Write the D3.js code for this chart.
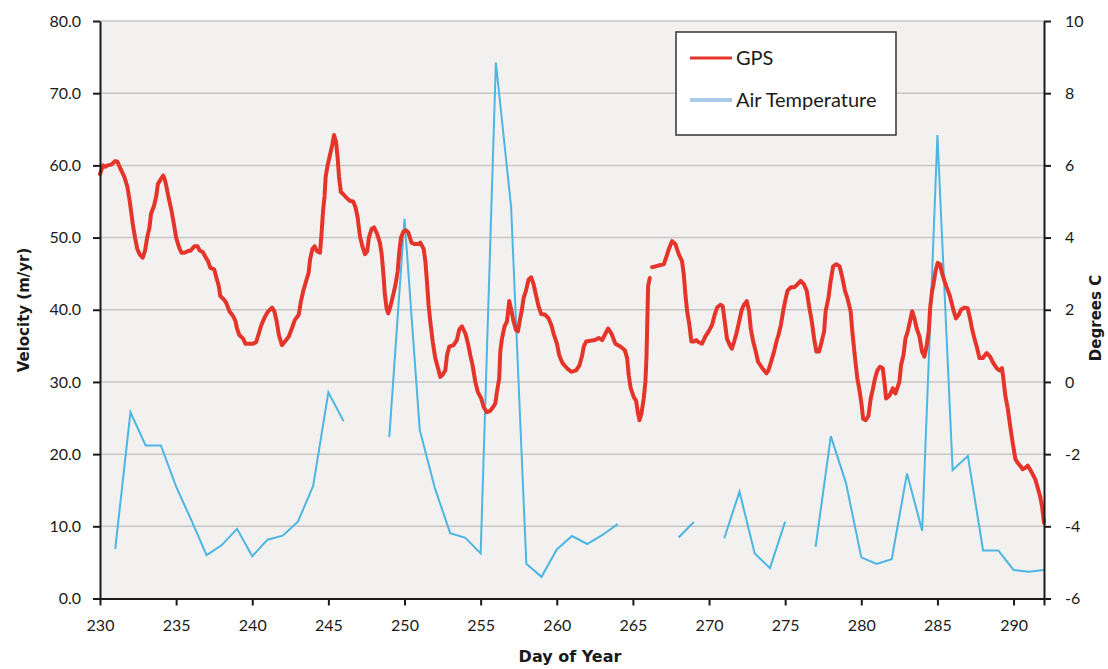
<!DOCTYPE html>
<html><head><meta charset="utf-8">
<script src="https://cdn.jsdelivr.net/npm/d3@7"></script>
<style>
html,body{margin:0;padding:0;background:#fff;}
svg text{font-family:Lato,"Open Sans",sans-serif;fill:#1a1a1a;}
</style></head>
<body>
<svg id="chart" width="1108" height="669"></svg>
<script>
// ---- data ----
const velTicks = [0,10,20,30,40,50,60,70,80];
const tempTicks = [-6,-4,-2,0,2,4,6,8,10];
const dayTicks = [230,235,240,245,250,255,260,265,270,275,280,285,290];

const gpsDay = [230.0,230.2,230.35,230.5,230.75,231.0,231.15,231.35,231.6,231.8,231.95,232.05,232.15,232.3,232.45,232.6,232.8,232.95,233.1,233.25,233.35,233.55,233.7,233.8,234.0,234.15,234.25,234.35,234.5,234.7,234.85,235.0,235.2,235.35,235.55,235.75,235.95,236.2,236.4,236.55,236.75,236.9,237.1,237.25,237.5,237.65,237.8,237.9,238.15,238.3,238.5,238.75,238.9,239.0,239.15,239.4,239.55,239.75,240.05,240.25,240.4,240.6,240.85,241.05,241.3,241.45,241.6,241.75,241.95,242.15,242.4,242.6,242.8,243.05,243.2,243.35,243.5,243.7,243.8,243.95,244.1,244.25,244.45,244.55,244.65,244.75,244.82,244.95,245.1,245.25,245.37,245.5,245.6,245.7,245.82,245.98,246.2,246.4,246.63,246.78,246.92,247.07,247.23,247.4,247.55,247.66,247.84,248.0,248.2,248.38,248.5,248.6,248.71,248.82,248.93,249.08,249.26,249.41,249.55,249.66,249.77,249.92,250.1,250.25,250.46,250.67,250.9,251.04,251.26,251.37,251.47,251.58,251.69,251.85,252.02,252.2,252.35,252.5,252.68,252.79,252.94,253.22,253.44,253.6,253.77,254.0,254.17,254.32,254.47,254.65,254.82,255.04,255.2,255.41,255.63,255.81,255.96,256.07,256.22,256.29,256.4,256.57,256.73,256.88,257.01,257.16,257.32,257.45,257.56,257.71,257.82,257.97,258.15,258.32,258.48,258.65,258.8,258.98,259.24,259.46,259.64,259.79,260.01,260.16,260.38,260.67,260.95,261.27,261.49,261.67,261.77,261.93,262.21,262.5,262.76,262.98,263.15,263.37,263.59,263.85,264.18,264.47,264.62,264.73,264.86,265.06,265.21,265.32,265.43,265.56,265.71,265.82,265.89,265.95,266.0,266.11,266.18,266.26,266.48,266.81,267.03,267.18,267.36,267.57,267.79,268.01,268.23,268.34,268.45,268.56,268.71,268.84,269.0,269.15,269.32,269.54,269.76,269.98,270.2,270.37,270.53,270.75,270.9,271.03,271.18,271.32,271.5,271.65,271.8,271.98,272.15,272.3,272.48,272.63,272.74,272.9,273.07,273.22,273.5,273.77,273.9,274.05,274.27,274.43,274.56,274.72,274.87,275.0,275.15,275.37,275.59,275.8,276.02,276.24,276.42,276.57,276.75,276.9,277.05,277.23,277.4,277.56,277.66,277.84,277.99,278.15,278.36,278.58,278.76,278.93,279.09,279.3,279.41,279.59,279.74,279.9,280.03,280.12,280.29,280.47,280.62,280.77,280.9,281.06,281.23,281.41,281.52,281.63,281.85,282.07,282.24,282.39,282.5,282.61,282.77,282.9,283.05,283.2,283.34,283.49,283.64,283.82,283.99,284.15,284.3,284.43,284.52,284.65,284.74,284.87,285.02,285.17,285.3,285.46,285.61,285.79,285.94,286.07,286.22,286.4,286.55,286.77,286.99,287.14,287.27,287.43,287.58,287.76,287.97,288.24,288.46,288.67,288.89,289.07,289.24,289.33,289.46,289.62,289.77,289.94,290.12,290.27,290.43,290.6,290.78,290.93,291.08,291.26,291.43,291.59,291.74,291.87,292.0];
const gpsVel = [58.8,60.0,59.8,60.0,60.1,60.6,60.5,59.5,58.4,57.0,55.1,53.5,51.9,50.0,48.4,47.7,47.2,48.1,50.0,51.4,53.3,54.4,55.8,57.4,58.1,58.6,58.1,57.2,55.6,53.7,51.9,50.0,48.6,47.9,47.9,48.1,48.2,48.8,48.8,48.2,48.0,47.4,46.7,45.8,45.6,44.4,43.3,41.9,41.4,40.9,39.8,39.1,38.4,37.4,36.5,36.0,35.3,35.3,35.3,35.5,36.5,37.9,39.1,39.8,40.3,39.8,38.4,36.5,35.1,35.6,36.3,37.4,38.6,39.3,41.2,42.6,43.7,45.1,47.0,48.4,48.8,48.1,47.9,50.5,53.7,55.8,58.4,60.0,61.4,62.8,64.2,63.3,61.2,58.4,56.3,56.0,55.5,55.1,55.0,54.2,52.8,50.2,48.8,47.7,48.1,50.0,51.2,51.4,50.5,49.3,47.7,45.3,42.1,40.2,39.5,40.5,42.1,43.5,45.3,48.1,50.0,50.8,51.0,50.7,49.3,49.1,49.1,49.3,48.4,46.7,44.0,40.7,38.4,35.6,33.3,31.9,30.7,31.0,31.6,33.7,34.9,35.1,35.8,37.3,37.7,36.7,35.3,33.7,32.3,30.0,28.6,27.7,26.5,25.8,26.0,26.5,27.0,28.6,30.5,34.2,36.0,37.7,38.4,41.2,40.0,38.4,37.2,37.0,38.4,40.0,41.6,42.6,44.2,44.5,43.5,41.9,40.5,39.4,39.3,38.8,37.9,36.7,35.3,33.7,32.6,31.9,31.4,31.6,32.3,33.7,34.9,35.6,35.7,35.8,36.1,35.8,36.5,37.4,36.7,35.3,34.9,34.4,33.3,30.9,29.1,27.9,27.4,25.8,24.7,25.6,27.7,30.0,33.3,38.8,43.3,44.4,null,45.9,46.0,46.2,46.3,47.2,48.4,49.5,49.1,47.7,46.7,44.9,42.1,39.8,37.9,35.6,35.6,35.8,35.5,35.3,36.3,37.0,37.9,39.3,40.3,40.7,40.5,38.4,36.0,35.3,34.6,35.6,36.7,38.4,40.0,40.7,41.2,39.8,37.4,35.6,34.2,32.8,31.9,31.2,31.6,32.6,34.2,35.6,36.5,37.9,39.8,41.2,42.6,43.1,43.1,43.5,44.0,43.5,42.6,40.5,38.4,36.0,34.2,34.2,35.6,37.0,39.8,41.6,44.0,46.0,46.3,46.0,44.4,42.6,41.6,39.8,37.0,33.3,30.5,28.6,26.7,24.9,24.7,25.3,27.7,29.1,30.5,31.6,32.1,31.9,30.0,27.7,28.1,29.1,28.4,29.3,30.0,32.3,33.7,36.0,37.0,38.4,39.8,38.8,37.4,36.3,34.2,33.5,35.1,37.0,40.2,42.6,43.5,45.3,46.5,46.3,45.1,44.0,43.1,42.1,40.9,39.8,38.8,39.3,40.0,40.3,40.2,38.8,37.4,36.0,34.9,33.3,33.3,34.0,33.5,32.6,31.9,31.6,31.9,30.5,28.1,26.3,24.0,21.6,19.3,18.8,18.4,17.9,18.1,18.4,17.9,17.2,16.5,15.3,14.2,12.8,10.5];

const tempDay = [231,232,233,234,235,236,237,238,239,240,241,242,243,244,245,246,247,248,249,250,251,252,253,254,255,256,257,258,259,260,261,262,263,264,265,266,267,268,269,270,271,272,273,274,275,276,277,278,279,280,281,282,283,284,285,286,287,288,289,290,291,292];
const tempVal = [-4.63,-0.84,-1.76,-1.76,-2.9,-3.83,-4.8,-4.52,-4.07,-4.83,-4.37,-4.26,-3.87,-2.88,-0.29,-1.09,null,null,-1.53,4.52,-1.33,-2.95,-4.19,-4.32,-4.75,8.85,4.85,-5.04,-5.4,-4.64,-4.27,-4.49,-4.24,-3.94,null,null,null,-4.31,-3.88,null,-4.33,-3.04,-4.75,-5.16,-3.87,null,-4.57,-1.5,-2.81,-4.86,-5.04,-4.91,-2.54,-4.12,6.84,-2.44,-2.05,-4.67,-4.67,-5.21,-5.26,-5.21];

const seriesNames = ["GPS","Air Temperature"];

// ---- layout ----
const L = 100, R = 1044, T = 21, B = 598.5;
const svg = d3.select("#chart");
const x = d3.scaleLinear().domain([230,292]).range([L,R]);
const yV = d3.scaleLinear().domain([0,80]).range([B,T]);
const yT = d3.scaleLinear().domain([-6,10]).range([B,T]);

svg.append("rect").attr("x",L).attr("y",T).attr("width",R-L).attr("height",B-T).attr("fill","#f3f1f0");

// grid
svg.append("g").selectAll("line").data(velTicks.filter(d=>d>0)).join("line")
  .attr("x1",L).attr("x2",R).attr("y1",d=>yV(d)).attr("y2",d=>yV(d))
  .attr("stroke","#c6c6c6").attr("stroke-width",1.5);

// lines
const tempLine = d3.line().defined((d)=>d[1]!==null).x(d=>x(d[0])).y(d=>yT(d[1]));
svg.append("path").datum(tempDay.map((d,i)=>[d,tempVal[i]]))
  .attr("d",tempLine).attr("fill","none").attr("stroke","#4db5e2").attr("stroke-width",2).attr("stroke-linejoin","miter");

const gpsLine = d3.line().defined((d)=>d[1]!==null).x(d=>x(d[0])).y(d=>yV(d[1]));
svg.append("path").datum(gpsDay.map((d,i)=>[d,gpsVel[i]]))
  .attr("d",gpsLine).attr("fill","none").attr("stroke","#e5352b").attr("stroke-width",4).attr("stroke-linejoin","round").attr("stroke-linecap","round");

// axes
const styleAxis = g => {
  g.selectAll(".domain").attr("stroke","#1a1a1a").attr("stroke-width",2);
  g.selectAll(".tick line").attr("stroke","#1a1a1a").attr("stroke-width",2);
  g.selectAll(".tick text").attr("font-size",16).attr("fill","#1a1a1a").style("font-family","Lato, sans-serif");
};
svg.append("g").attr("transform",`translate(${L},0)`)
  .call(d3.axisLeft(yV).tickValues(velTicks).tickFormat(d3.format(".1f")).tickSize(7).tickSizeOuter(0).tickPadding(12))
  .call(styleAxis);
svg.append("g").attr("transform",`translate(${R},0)`)
  .call(d3.axisRight(yT).tickValues(tempTicks).tickFormat(d=>d).tickSize(7).tickSizeOuter(0).tickPadding(14))
  .call(styleAxis);
svg.append("g").attr("transform",`translate(0,${B})`)
  .call(d3.axisBottom(x).tickValues(dayTicks.concat([292])).tickFormat(d=>d===292?"":d).tickSize(7).tickSizeOuter(0).tickPadding(14))
  .call(styleAxis);

// axis titles
svg.append("text").attr("transform","translate(29,310) rotate(-90)").attr("text-anchor","middle")
  .attr("font-size",15).attr("font-weight","bold").style("font-family","'DejaVu Sans', sans-serif").text("Velocity (m/yr)");
svg.append("text").attr("transform","translate(1101,318) rotate(-90)").attr("text-anchor","middle")
  .attr("font-size",15).attr("font-weight","bold").style("font-family","'DejaVu Sans', sans-serif").text("Degrees C");
svg.append("text").attr("x",570).attr("y",662).attr("text-anchor","middle")
  .attr("font-size",16).attr("font-weight","bold").style("font-family","'DejaVu Sans', sans-serif").text("Day of Year");

// legend
const lg = svg.append("g");
lg.append("rect").attr("x",676).attr("y",32).attr("width",220).attr("height",103)
  .attr("fill","#ffffff").attr("stroke","#333").attr("stroke-width",1.5);
const legendColors = ["#e5352b","#a9cbe9"];
const legendWidths = [3,4];
seriesNames.forEach((n,i)=>{
  const yy = 58 + i*42;
  lg.append("line").attr("x1",690).attr("x2",732).attr("y1",yy).attr("y2",yy)
    .attr("stroke",legendColors[i]).attr("stroke-width",legendWidths[i]);
  lg.append("text").attr("x",736).attr("y",yy+7).attr("font-size",20).text(n);
});
</script>
</body></html>
